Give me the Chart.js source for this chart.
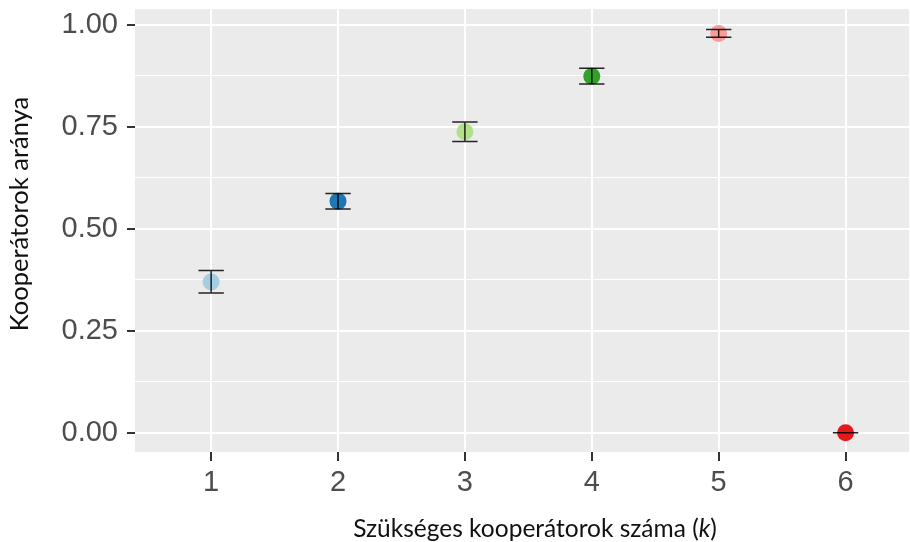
<!DOCTYPE html>
<html>
<head>
<meta charset="utf-8">
<script src="https://cdn.jsdelivr.net/npm/chart.js@4/dist/chart.umd.min.js"></script>
<style>
  html, body { margin: 0; padding: 0; background: #ffffff; }
  #wrap { width: 910px; height: 542px; }
</style>
</head>
<body>
<div id="wrap"><canvas id="c" width="910" height="542"></canvas></div>
<script>
// Required number of cooperators (k)
const kValues = [1, 2, 3, 4, 5, 6];
// Mean proportion of cooperators for each k
const proportion = [0.370, 0.568, 0.738, 0.874, 0.979, 0.000];
// Confidence interval bounds
const lowerCI = [0.343, 0.549, 0.714, 0.855, 0.970, 0.000];
const upperCI = [0.398, 0.587, 0.762, 0.894, 0.989, 0.000];
// Y-axis labels (major breaks)
const yTickLabels = ['0.00', '0.25', '0.50', '0.75', '1.00'];
// One colour per k
const pointColors = ['#A6CEE3', '#1F78B4', '#B2DF8A', '#33A02C', '#FB9A99', '#E31A1C'];

const yMajor = yTickLabels.map(Number);
const yAll = [];
yMajor.forEach((v, i) => {
  yAll.push(v);
  if (i < yMajor.length - 1) yAll.push((v + yMajor[i + 1]) / 2);
});
const isMajor = v => yMajor.some(m => Math.abs(m - v) < 1e-9);

const panelPlugin = {
  id: 'panel',
  beforeDraw(chart) {
    const { ctx, chartArea: a } = chart;
    ctx.save();
    ctx.fillStyle = '#EBEBEB';
    ctx.fillRect(a.left, a.top, a.right - a.left, a.bottom - a.top);
    ctx.restore();
  }
};

const errorBarPlugin = {
  id: 'errorBars',
  afterDatasetsDraw(chart) {
    const { ctx, scales: { x, y } } = chart;
    ctx.save();
    ctx.strokeStyle = 'rgba(0,0,0,0.85)';
    ctx.lineWidth = 1.5;
    kValues.forEach((k, i) => {
      const xc = x.getPixelForValue(k);
      const xl = x.getPixelForValue(k - 0.1);
      const xr = x.getPixelForValue(k + 0.1);
      const yl = y.getPixelForValue(lowerCI[i]);
      const yu = y.getPixelForValue(upperCI[i]);
      ctx.beginPath();
      ctx.moveTo(xl, yu); ctx.lineTo(xr, yu);
      ctx.moveTo(xc, yu); ctx.lineTo(xc, yl);
      ctx.moveTo(xl, yl); ctx.lineTo(xr, yl);
      ctx.stroke();
    });
    ctx.restore();
  }
};

const titlesPlugin = {
  id: 'axisTitles',
  afterDraw(chart) {
    const { ctx } = chart;
    ctx.save();
    ctx.fillStyle = '#111111';
    ctx.textBaseline = 'alphabetic';
    // x-axis title with italic k
    const normal = '24.5px Lato, "Open Sans", sans-serif';
    const italic = 'italic 24.5px Lato, "Open Sans", sans-serif';
    const parts = [['Szükséges kooperátorok száma (', normal], ['k', italic], [')', normal]];
    let total = 0;
    parts.forEach(([t, f]) => { ctx.font = f; total += ctx.measureText(t).width; });
    let xPos = 535 - total / 2;
    parts.forEach(([t, f]) => {
      ctx.font = f;
      ctx.textAlign = 'left';
      ctx.fillText(t, xPos, 537);
      xPos += ctx.measureText(t).width;
    });
    // y-axis title
    ctx.translate(28, 214);
    ctx.rotate(-Math.PI / 2);
    ctx.font = '25.5px Lato, "Open Sans", sans-serif';
    ctx.textAlign = 'center';
    ctx.fillText('Kooperátorok aránya', 0, 0);
    ctx.restore();
  }
};

new Chart(document.getElementById('c'), {
  type: 'scatter',
  data: {
    datasets: [{
      data: kValues.map((k, i) => ({ x: k, y: proportion[i] })),
      pointBackgroundColor: pointColors,
      pointBorderWidth: 0,
      pointRadius: 8.5,
      pointHoverRadius: 8.5
    }]
  },
  options: {
    responsive: false,
    animation: false,
    events: [],
    layout: { autoPadding: false, padding: { left: 0, top: 9, right: 1, bottom: 0 } },
    plugins: { legend: { display: false }, tooltip: { enabled: false } },
    scales: {
      x: {
        type: 'linear',
        min: 0.4,
        max: 6.5,
        afterBuildTicks: s => { s.ticks = kValues.map(v => ({ value: v })); },
        afterFit: s => { s.height = 90; s.paddingLeft = 0; s.paddingRight = 0; },
        border: { display: false },
        grid: { color: '#FFFFFF', lineWidth: 2, tickColor: '#333333', tickWidth: 2, tickLength: 9 },
        ticks: {
          padding: 5,
          color: '#4D4D4D',
          font: { family: '"Liberation Sans", Arial, sans-serif', size: 29 },
          callback: v => String(v)
        }
      },
      y: {
        type: 'linear',
        min: -0.047,
        max: 1.039,
        afterBuildTicks: s => { s.ticks = yAll.map(v => ({ value: v })); },
        afterFit: s => { s.width = 135; s.paddingTop = 0; s.paddingBottom = 0; },
        border: { display: false },
        grid: {
          color: '#FFFFFF',
          lineWidth: c => (c.tick && isMajor(c.tick.value)) ? 2 : 1,
          tickColor: c => (c.tick && isMajor(c.tick.value)) ? '#333333' : 'rgba(0,0,0,0)',
          tickWidth: 2,
          tickLength: 8
        },
        ticks: {
          padding: 9,
          color: '#4D4D4D',
          font: { family: '"Liberation Sans", Arial, sans-serif', size: 29 },
          callback: v => isMajor(v) ? v.toFixed(2) : ''
        }
      }
    }
  },
  plugins: [panelPlugin, errorBarPlugin, titlesPlugin]
});
</script>
</body>
</html>
